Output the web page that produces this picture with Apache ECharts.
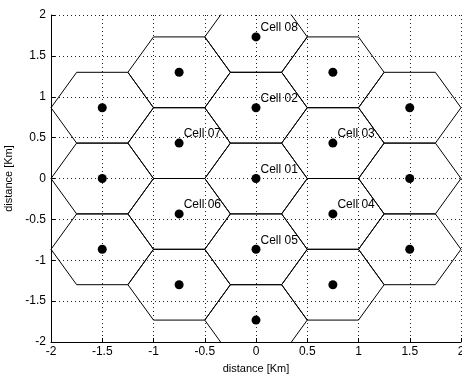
<!DOCTYPE html>
<html>
<head>
<meta charset="utf-8">
<script src="https://cdn.jsdelivr.net/npm/echarts@6/dist/echarts.min.js"></script>
<style>html,body{margin:0;padding:0;background:#fff}#c{width:462px;height:376px}</style>
</head>
<body>
<div id="c"></div>
<script>
// Cell centres (km)
var cellX = [0, 0, 0.75, 0.75, 0, -0.75, -0.75, 0, 0.75, 1.5, 1.5, 1.5, 0.75, 0, -0.75, -1.5, -1.5, -1.5, -0.75];
var cellY = [0, 0.866, 0.433, -0.433, -0.866, -0.433, 0.433, 1.732, 1.299, 0.866, 0, -0.866, -1.299, -1.732, -1.299, -0.866, 0, 0.866, 1.299];
var cellNames = ['Cell 01', 'Cell 02', 'Cell 03', 'Cell 04', 'Cell 05', 'Cell 06', 'Cell 07', 'Cell 08', '', '', '', '', '', '', '', '', '', '', ''];
var hexRadius = 0.5;
var tickValues = [-2, -1.5, -1, -0.5, 0, 0.5, 1, 1.5, 2];

var font = 'Liberation Sans, Arial, Helvetica, sans-serif';
var series = [];
for (var i = 0; i < cellX.length; i++) {
  var pts = [];
  for (var k = 0; k <= 6; k++) {
    var a = Math.PI / 3 * k;
    pts.push([cellX[i] + hexRadius * Math.cos(a), cellY[i] + hexRadius * Math.sin(a)]);
  }
  series.push({
    type: 'line', data: pts, symbol: 'none', clip: true, silent: true,
    lineStyle: { color: '#000', width: 1 }, animation: false, z: 2
  });
}
var pts = cellX.map(function (x, i) { return { value: [x, cellY[i]], name: cellNames[i] }; });
series.push({
  type: 'scatter', data: pts, symbol: 'circle', symbolSize: 9, z: 5,
  itemStyle: { color: '#000', opacity: 1 }, animation: false,
  label: { show: true, formatter: '{b}', position: 'right', distance: 0, offset: [0, -9],
    fontFamily: font, fontSize: 12, color: '#000' }
});

function axis(name, gap, isY) {
  return {
    type: 'value', min: -2, max: 2, interval: 0.5,
    name: name, nameLocation: 'middle', nameGap: gap,
    nameTextStyle: { fontFamily: font, fontSize: 11, color: '#000' },
    axisLine: { show: true, onZero: false, lineStyle: { color: '#000', width: 1 } },
    axisTick: { show: true, inside: true, length: 4, lineStyle: { color: '#000' } },
    axisLabel: { fontFamily: font, fontSize: 12, color: '#000', margin: isY ? 5 : 4,
      formatter: function (v) { return String(tickValues[tickValues.indexOf(v)]); } },
    splitLine: { show: true, lineStyle: { color: '#222', type: [1, 3], width: 1 } }
  };
}

var chart = echarts.init(document.getElementById('c'), null, { renderer: 'canvas' });
chart.setOption({
  animation: false,
  backgroundColor: '#fff',
  grid: { left: 51, top: 15, right: 1, bottom: 34, containLabel: false, outerBoundsMode: 'none' },
  xAxis: axis('distance [Km]', 21, false),
  yAxis: axis('distance [Km]', 30, true),
  series: series
});
</script>
</body>
</html>
